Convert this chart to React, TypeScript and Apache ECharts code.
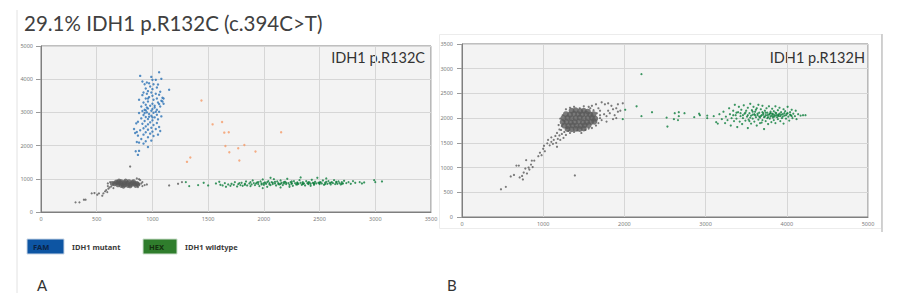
import React, { useEffect, useRef } from "react";
import * as echarts from "echarts";

// ---------- tick labels ----------
const leftXTicks = [0, 500, 1000, 1500, 2000, 2500, 3000, 3500];
const leftYTicks = [0, 1000, 2000, 3000, 4000, 5000];
const rightXTicks = [0, 1000, 2000, 3000, 4000, 5000];
const rightYTicks = [0, 500, 1000, 1500, 2000, 2500, 3000, 3500];

// ---------- texts ----------
const mainTitle = "29.1% IDH1 p.R132C (c.394C>T)";
const leftPanelLabel = "IDH1 p.R132C";
const rightPanelLabel = "IDH1 p.R132H";
const legendItems = [
  { dye: "FAM", name: "IDH1 mutant" },
  { dye: "HEX", name: "IDH1 wildtype" },
];

// ---------- panel A (p.R132C) ----------
const aNegCore: number[][] = [
  [660, 850], [690, 820], [690, 880], [720, 800], [720, 860], [720, 910], [750, 820], [750, 880],
  [760, 930], [780, 800], [780, 860], [790, 910], [810, 830], [820, 880], [840, 850], [860, 860],
  [870, 830], [640, 860], [700, 930], [740, 780], [800, 790], [830, 910], [675, 900], [850, 800],
];
const aNeg: number[][] = [
  [310, 290], [345, 290], [385, 370], [400, 370], [455, 560], [480, 570], [505, 520], [520, 560],
  [550, 490], [560, 560], [575, 620], [585, 660], [595, 600], [605, 700], [615, 740], [630, 770],
  [600, 780], [650, 720], [880, 830], [900, 860], [890, 960], [910, 900], [930, 810], [950, 830],
  [880, 990], [860, 1010], [800, 1370], [1150, 800], [870, 750], [620, 900], [600, 860], [910, 780],
  [1230, 850], [1265, 900],
];
const aFam: number[][] = [
  [890, 4100], [990, 4070], [1060, 4210], [1000, 3980], [1030, 3980], [950, 3900], [970, 3880], [1080, 4010],
  [910, 3930], [930, 3850], [1010, 3850], [1050, 3840], [1150, 3680], [980, 3780], [1040, 3750], [1000, 3700],
  [940, 3720], [960, 3640], [1070, 3620], [990, 3600], [920, 3600], [1030, 3560], [950, 3560], [1060, 3530],
  [910, 3520], [1000, 3500], [1090, 3440], [970, 3460], [1040, 3420], [940, 3420], [1010, 3380], [880, 3380],
  [1080, 3350], [960, 3330], [920, 3300], [1050, 3300], [1000, 3260], [940, 3230], [980, 3200], [1070, 3180],
  [900, 3180], [1020, 3150], [960, 3120], [930, 3080], [1040, 3080], [990, 3050], [910, 3040], [1060, 3020],
  [950, 3000], [1010, 2990], [880, 2980], [970, 2950], [1040, 2930], [920, 2920], [990, 2900], [1080, 2880],
  [940, 2860], [1020, 2850], [900, 2820], [960, 2800], [1050, 2790], [1000, 2760], [930, 2740], [870, 2720],
  [980, 2700], [1040, 2680], [910, 2660], [960, 2640], [1010, 2620], [940, 2580], [1060, 2560], [990, 2540],
  [920, 2520], [1030, 2500], [960, 2480], [890, 2460], [1070, 2440], [1000, 2420], [940, 2400], [860, 2410],
  [980, 2360], [1050, 2330], [920, 2330], [1010, 2290], [870, 2300], [960, 2250], [900, 2200], [940, 2130],
  [880, 2090], [860, 2110], [990, 2150], [920, 2060], [960, 1960], [850, 1830], [880, 1840], [870, 1720],
  [835, 2500], [845, 2380], [855, 2670], [1100, 3420], [1090, 3330], [1100, 3260], [1060, 3250], [950, 3150],
  [1000, 3100], [930, 2980], [1030, 3020], [970, 2870], [1020, 3200], [960, 3420], [1000, 2850], [940, 3060],
];
const aDouble: number[][] = [
  [1440, 3360], [1540, 2640], [1625, 2710], [1645, 2390], [1685, 2400], [1655, 1990], [1770, 1920],
  [1825, 2020], [1690, 1800], [1925, 1820], [1780, 1550], [2155, 2400], [1340, 1640], [1310, 1510],
];
const aHex: number[][] = [
  [1300, 900], [1330, 780], [1410, 810], [1460, 880], [1500, 800], [1570, 860], [1600, 910], [1610, 820],
  [1630, 800], [1650, 870], [1660, 760], [1680, 830], [1700, 790], [1710, 850], [1730, 820], [1740, 900],
  [1760, 770], [1770, 840], [1790, 810], [1800, 880], [1810, 790], [1830, 850], [1840, 920], [1850, 800],
  [1870, 860], [1880, 780], [1890, 830], [1900, 950], [1910, 870], [1920, 810], [1940, 890], [1950, 840],
  [1960, 780], [1970, 920], [1980, 860], [1990, 980], [2000, 820], [2010, 890], [2020, 850], [2030, 760],
  [2040, 930], [2050, 870], [2060, 810], [2070, 900], [2080, 840], [2090, 990], [2100, 860], [2110, 800],
  [2120, 920], [2130, 870], [2140, 830], [2150, 950], [2160, 880], [2170, 810], [2180, 860], [2190, 910],
  [2200, 840], [2210, 1000], [2220, 870], [2230, 820], [2240, 900], [2250, 850], [2260, 790], [2270, 930],
  [2280, 870], [2290, 830], [2300, 890], [2310, 850], [2320, 960], [2330, 880], [2340, 820], [2350, 900],
  [2360, 860], [2370, 800], [2380, 930], [2390, 870], [2400, 840], [2410, 890], [2420, 850], [2430, 970],
  [2440, 880], [2450, 820], [2460, 910], [2470, 860], [2480, 1030], [2490, 880], [2500, 840], [2510, 900],
  [2520, 860], [2530, 950], [2540, 820], [2550, 880], [2560, 910], [2570, 850], [2580, 930], [2590, 870],
  [2600, 830], [2610, 900], [2620, 870], [2630, 960], [2640, 840], [2650, 890], [2660, 850], [2670, 920],
  [2680, 870], [2690, 830], [2700, 900], [2710, 860], [2720, 940], [2740, 870], [2760, 900], [2780, 850],
  [2800, 930], [2820, 880], [2860, 900], [2880, 860], [2900, 890], [2990, 960], [3000, 900], [3060, 920],
  [1950, 900], [2000, 870], [2050, 830], [2100, 910], [2150, 850], [2200, 880], [2250, 920], [2300, 830],
  [2350, 860], [2400, 900], [2450, 870], [2500, 890], [2550, 840], [2600, 880], [2650, 910], [2700, 850],
  [2250, 870], [2300, 870], [2350, 840], [2400, 860], [2450, 850], [2500, 870], [2180, 900], [2130, 840],
  [2080, 880], [2030, 900], [1980, 830], [1930, 860], [1880, 900], [1830, 820], [1780, 870], [2330, 1040],
  [2560, 1010], [2060, 1030], [2230, 760], [2420, 790], [2150, 740], [1990, 720],
];

// ---------- panel B (p.R132H) ----------
const bNegCore: number[][] = [
  [1350, 2150], [1400, 2160], [1455, 2140], [1500, 2150], [1550, 2130],
  [1280, 2080], [1330, 2070], [1380, 2085], [1430, 2080], [1480, 2075], [1530, 2085], [1580, 2070], [1620, 2080],
  [1250, 2000], [1300, 2005], [1350, 1995], [1400, 2000], [1450, 2010], [1500, 1995], [1550, 2000], [1600, 2005], [1640, 1990],
  [1240, 1920], [1290, 1925], [1340, 1915], [1390, 1920], [1440, 1930], [1490, 1915], [1540, 1920], [1590, 1925], [1630, 1930],
  [1260, 1850], [1310, 1845], [1360, 1855], [1410, 1850], [1460, 1845], [1510, 1855], [1560, 1860],
  [1300, 1780], [1350, 1775], [1400, 1785], [1450, 1780], [1500, 1790],
];
const bNeg: number[][] = [
  [480, 560], [540, 610], [600, 820], [640, 850], [670, 1040], [700, 1040], [710, 800], [740, 830],
  [750, 760], [760, 900], [780, 980], [790, 1150], [800, 880], [820, 1000], [830, 960], [850, 1060],
  [860, 1140], [870, 1010], [890, 1140], [940, 1230], [960, 1300], [980, 1250], [1000, 1380], [1010, 1440],
  [1020, 1330], [1050, 1490], [1060, 1560], [1080, 1450], [1100, 1520], [1100, 1610], [1120, 1480], [1130, 1560],
  [1150, 1640], [1160, 1500], [1170, 1700], [1180, 1580], [1200, 1650], [1210, 1560], [1220, 1760], [1230, 1680],
  [1250, 1600], [1260, 1720], [1280, 1660], [1290, 1800], [1310, 1740], [1230, 1840], [1200, 1770], [1190, 1860],
  [1170, 1420], [1390, 840], [1330, 1700], [1380, 1720], [1420, 1750], [1470, 1700], [1520, 1760], [1560, 1790],
  [1600, 1800], [1650, 1850], [1680, 1900], [1700, 2000], [1720, 1960], [1750, 2080], [1780, 2040], [1800, 2150],
  [1820, 2100], [1840, 2250], [1860, 2180], [1880, 2060], [1900, 2200], [1920, 2280], [1950, 2150], [1700, 2150],
  [1720, 2320], [1650, 2280], [1600, 2250], [1560, 2230], [1500, 2240], [1450, 2200], [1380, 2230], [1330, 2210],
  [1280, 2180], [1760, 2280], [1800, 2300], [1680, 2200], [1660, 2100], [1700, 2060], [1620, 2160], [1580, 2200],
  [1240, 2060], [1210, 1990], [1260, 1940], [1920, 2130], [1980, 2300], [1860, 1980], [1780, 1930], [1900, 2000],
];
const bHex: number[][] = [
  [2150, 2240], [1980, 1980], [2010, 2170], [2210, 2040], [2340, 2120], [2520, 2010], [2530, 1830], [2620, 2100],
  [2670, 2120], [2740, 2100], [2610, 1980], [2660, 1960], [2670, 2040], [2860, 2020], [2920, 2090], [2930, 2060],
  [3020, 2050], [3020, 2000], [2210, 2890],
  [3100, 2040], [3130, 1920], [3150, 1890], [3170, 2080], [3200, 1980], [3220, 2130], [3240, 1900], [3250, 2030],
  [3270, 1960], [3290, 2200], [3300, 2080], [3310, 1850], [3320, 2000], [3340, 2150], [3350, 1940], [3360, 2270],
  [3370, 2060], [3380, 1990], [3390, 1820], [3400, 2120], [3410, 2230], [3420, 1930], [3430, 2040], [3440, 2170],
  [3450, 1880], [3460, 2000], [3470, 2260], [3480, 2090], [3490, 1950], [3500, 2150], [3510, 2030], [3520, 1800],
  [3520, 2210], [3530, 1970], [3540, 2100], [3550, 2290], [3560, 2050], [3560, 1890], [3570, 2160], [3580, 1990],
  [3590, 2230], [3600, 2080], [3600, 1930], [3610, 2130], [3620, 2020], [3630, 1850], [3630, 2200], [3640, 2060],
  [3650, 1970], [3650, 2270], [3660, 2110], [3670, 2010], [3670, 1900], [3680, 2180], [3690, 2060], [3700, 1960],
  [3700, 2250], [3710, 2100], [3720, 2020], [3720, 1780], [3730, 2150], [3740, 1940], [3740, 2060], [3750, 2200],
  [3760, 2000], [3760, 2110], [3770, 1880], [3780, 2070], [3780, 2240], [3790, 1990], [3800, 2130], [3800, 2030],
  [3810, 1920], [3820, 2090], [3820, 2190], [3830, 2010], [3840, 2140], [3840, 1960], [3850, 2060], [3860, 2240],
  [3860, 1900], [3870, 2100], [3880, 2020], [3890, 2160], [3890, 1980], [3900, 2070], [3910, 2210], [3920, 2040],
  [3920, 1940], [3930, 2120], [3940, 2000], [3950, 2080], [3960, 2180], [3960, 1890], [3970, 2050], [3980, 2140],
  [3990, 1990], [4000, 2090], [4010, 2230], [4020, 2030], [4030, 1950], [4040, 2120], [4050, 2060], [4060, 2170],
  [4070, 2000], [4080, 2090], [4100, 2040], [4110, 2150], [4120, 1980], [4140, 2080], [4170, 2050], [4200, 2060],
  [4230, 2060],
  [3610, 2060], [3640, 2090], [3680, 2040], [3710, 2070], [3730, 2030], [3760, 2060], [3790, 2090], [3810, 2050],
  [3830, 2080], [3850, 2030], [3870, 2060], [3900, 2040], [3930, 2070], [3950, 2030], [3970, 2100], [3660, 2030],
  [3700, 2120], [3740, 2110], [3770, 2020], [3800, 2100], [3830, 2040], [3860, 2110], [3890, 2060], [3910, 2090],
  [3580, 2070], [3550, 2010], [3520, 2060], [3490, 2110], [3460, 2060], [3430, 2100], [3380, 2110], [3340, 2060],
  [3990, 2060], [4010, 2100], [4040, 2070], [4060, 2040], [3580, 2130], [3620, 2170], [3690, 1910], [3540, 1940],
];

const GRAY = "#5a5a5a";
const BLUE = "#2a72b5";
const GREEN = "#0b7d3b";
const ORANGE = "#f59a66";

function axisPair(xTicks: number[], yTicks: number[], idx: number, yMargin: number) {
  const lab = {
    fontSize: 5.5, color: "#7a7a7a", fontFamily: "Noto Sans",
    formatter: (v: number) => String(v),
  };
  const x = {
    type: "value", gridIndex: idx,
    min: xTicks[0], max: xTicks[xTicks.length - 1], interval: xTicks[1] - xTicks[0],
    axisLine: { show: true, lineStyle: { color: "#7f7f7f" } },
    axisTick: { show: false },
    axisLabel: { ...lab, margin: 4 },
    splitLine: { show: true, lineStyle: { color: "#d6d6d6", width: 1 } },
  };
  const y = {
    type: "value", gridIndex: idx,
    min: yTicks[0], max: yTicks[yTicks.length - 1], interval: yTicks[1] - yTicks[0],
    axisLine: { show: true, lineStyle: { color: "#7f7f7f" } },
    axisTick: { show: true, length: 5, lineStyle: { color: "#9a9a9a" } },
    axisLabel: { ...lab, margin: yMargin },
    splitLine: { show: true, lineStyle: { color: "#d6d6d6", width: 1 } },
  };
  return { x, y };
}

function scat(name: string, data: number[][], idx: number, color: string, size: number, z = 2) {
  return {
    name, type: "scatter", xAxisIndex: idx, yAxisIndex: idx, data,
    symbol: "circle", symbolSize: size, itemStyle: { color }, z, silent: true,
  };
}

export default function App() {
  const ref = useRef<HTMLDivElement>(null);
  useEffect(() => {
    if (!ref.current) return;
    const chart = echarts.init(ref.current, undefined, { renderer: "svg" });
    const a = axisPair(leftXTicks, leftYTicks, 0, 8);
    const b = axisPair(rightXTicks, rightYTicks, 1, 9);
    const txt = "#404040";
    chart.setOption({
      animation: false,
      backgroundColor: "#ffffff",
      grid: [
        { left: 41, top: 46, width: 390, height: 166, show: true, backgroundColor: "#f3f3f3", borderColor: "#7f7f7f", borderWidth: 1 },
        { left: 462, top: 44, width: 406, height: 173, show: true, backgroundColor: "#f3f3f3", borderColor: "#7f7f7f", borderWidth: 1 },
      ],
      xAxis: [a.x, b.x],
      yAxis: [a.y, b.y],
      series: [
        scat("A negative core", aNegCore, 0, GRAY, 5, 2),
        scat("A negative", aNeg, 0, GRAY, 2.2, 3),
        scat("A FAM", aFam, 0, BLUE, 2.4, 3),
        scat("A double", aDouble, 0, ORANGE, 2.4, 3),
        scat("A HEX", aHex, 0, GREEN, 2.2, 3),
        scat("B negative core", bNegCore, 1, GRAY, 6, 2),
        scat("B negative", bNeg, 1, GRAY, 2.2, 3),
        scat("B HEX", bHex, 1, GREEN, 2.2, 3),
      ],
      graphic: [
        { type: "line", shape: { x1: 17, y1: 10, x2: 17, y2: 293 }, style: { stroke: "#e2e2e2", lineWidth: 1 }, silent: true },
        { type: "rect", shape: { x: 439.5, y: 34.5, width: 442, height: 194 }, style: { fill: "none", stroke: "#ececec", lineWidth: 1 }, silent: true },
        { type: "line", shape: { x1: 882, y1: 34, x2: 882, y2: 232 }, style: { stroke: "#c4c4c4", lineWidth: 1.5 }, silent: true },
        { type: "text", left: 24, top: 12, style: { text: mainTitle, fontSize: 20.5, fontFamily: "Lato", fill: txt } },
        { type: "text", right: 902 - 425, top: 50, style: { text: leftPanelLabel, fontSize: 14.5, fontFamily: "Lato", fill: "#333333" } },
        { type: "text", right: 902 - 865, top: 50, style: { text: rightPanelLabel, fontSize: 14.5, fontFamily: "Lato", fill: "#333333" } },
        { type: "rect", shape: { x: 27, y: 239, width: 37, height: 15 }, style: { fill: "#0d55a3", stroke: "#c9d6e6", lineWidth: 1 } },
        { type: "text", x: 33, y: 246.5, style: { text: legendItems[0].dye, fontSize: 7.5, fontWeight: "bold", fontFamily: "Noto Sans", fill: "#0b2346", verticalAlign: "middle" } },
        { type: "text", x: 72, y: 246.5, style: { text: legendItems[0].name, fontSize: 7.5, fontWeight: "bold", fontFamily: "Noto Sans", fill: "#3a3a3a", verticalAlign: "middle" } },
        { type: "rect", shape: { x: 143, y: 239, width: 34, height: 15 }, style: { fill: "#2f7d2c", stroke: "#cfe0cf", lineWidth: 1 } },
        { type: "text", x: 149, y: 246.5, style: { text: legendItems[1].dye, fontSize: 7.5, fontWeight: "bold", fontFamily: "Noto Sans", fill: "#14300f", verticalAlign: "middle" } },
        { type: "text", x: 185, y: 246.5, style: { text: legendItems[1].name, fontSize: 7.5, fontWeight: "bold", fontFamily: "Noto Sans", fill: "#3a3a3a", verticalAlign: "middle" } },
        { type: "text", x: 37, y: 285, style: { text: "A", fontSize: 15, fontFamily: "Lato", fill: "#333333", verticalAlign: "middle" } },
        { type: "text", x: 447, y: 285, style: { text: "B", fontSize: 15, fontFamily: "Lato", fill: "#333333", verticalAlign: "middle" } },
      ],
    });
    return () => chart.dispose();
  }, []);
  return <div ref={ref} style={{ position: "fixed", left: 0, top: 0, width: 902, height: 307 }} />;
}
